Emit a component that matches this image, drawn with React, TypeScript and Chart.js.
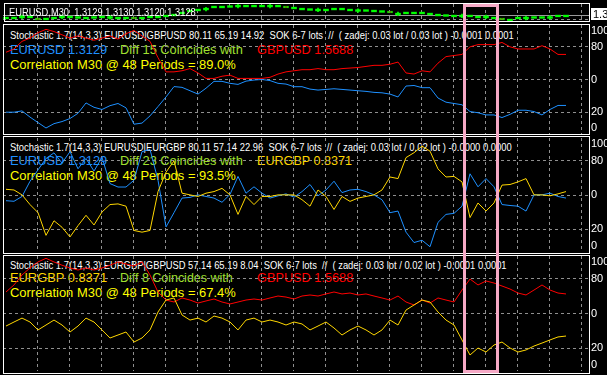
import React, { useEffect, useLayoutEffect, useRef, useState } from 'react';
import { Chart, registerables } from 'chart.js';
Chart.register(...registerables);

const FONT = '"Liberation Sans", Arial, sans-serif';
const BLUE = '#1E90FF';
const RED = '#FF0000';
const GOLD = '#FFD700';
const YELLOW = '#FFFF00';
const LIME = '#A0E030';
const GRID = '#8f8f8f';
const CANDLE = '#00FF00';

// ---- price panel (EURUSD, M30) ----
const priceClose = [
  1.31218, 1.31218, 1.31235, 1.31235, 1.31202, 1.31202, 1.31218, 1.31235, 1.31235, 1.31227,
  1.31218, 1.31227, 1.31235, 1.31227, 1.31218, 1.31218, 1.31218, 1.31218, 1.31235, 1.31235,
  1.31252, 1.31268, 1.31302, 1.31335, 1.31352, 1.31368, 1.31402, 1.31402, 1.3141, 1.31418,
  1.31418, 1.31418, 1.31418, 1.31418, 1.31418, 1.31402, 1.31385, 1.31368, 1.3136, 1.31352,
  1.31352, 1.31368, 1.31368, 1.31352, 1.31343, 1.31343, 1.31335, 1.31327, 1.31318, 1.31285,
  1.31302, 1.31302, 1.31302, 1.31285, 1.31268, 1.3126, 1.31252, 1.31252, 1.31252, 1.31235,
  1.31235, 1.31218, 1.31202, 1.31185, 1.31218, 1.31218, 1.31227, 1.31227, 1.31227, 1.31252,
  1.31252,
];
const markedBars = [4, 16, 35, 48, 62];
const wickBars = [2, 7, 13, 25, 29, 33, 39, 44, 49, 57, 60, 65, 68];
const bidLevel = 1.31268;
const priceGridLevel = 1.31185;
const priceMin = 1.31168;
const priceMax = 1.31452;
const bodyHalf = 0.00014;
const wickHalf = 0.0003;

// ---- panel 1: EURUSD vs GBPUSD ----
const p1EURUSD = [
  20, 20, 21.2, 15.5, 10.5, 5.5, 9.5, 11.4, 14.2, 19,
  28.5, 24.5, 22.5, 26, 28, 24, 9, 10, 16.6, 25.2,
  34, 43.5, 42.8, 39.7, 36.6, 42, 48.3, 48.3, 46.5, 45.5,
  48.5, 49.5, 50, 49, 46.5, 45.8, 43.4, 43.4, 41.2, 40.3,
  40.9, 41.5, 40.9, 40.3, 39.7, 39.1, 38.2, 37.8, 36.6, 34,
  44, 44.5, 42.5, 42.5, 33, 29.2, 28, 26.8, 20.6, 19.5,
  17.5, 17.5, 15.1, 18, 21.8, 21.8, 20.6, 17.5, 22.5, 26.2,
  26.2,
];
const p1GBPUSD = [
  75, 78, 85, 88, 93, 96, 94, 91, 88, 90,
  88, 86, 88, 90, 87, 92, 95, 90, 85, 70,
  57, 57, 58, 60, 56, 51, 51, 53, 54, 51,
  51, 51, 51, 52, 55, 57, 58, 59, 59, 60,
  59, 59, 60, 60.5, 61, 62, 63, 63, 64, 66,
  56, 55, 58, 57, 65, 71, 72, 73, 80, 82,
  82, 82, 84, 80, 78, 78, 78, 81, 78, 73,
  73,
];

// ---- panel 2: EURUSD vs EURGBP ----
const p2EURUSD = [
  45, 44.5, 48.7, 62, 72, 82, 87, 78, 88, 73,
  82, 71, 83, 60, 57, 57, 63, 88, 90, 63,
  22, 34.5, 47.3, 47.9, 50.1, 48.7, 47.3, 43.6, 50.5, 66.3,
  51.6, 57.2, 51.6, 47.3, 49.3, 51, 48.1, 53, 59.2, 49.3,
  54.4, 62.1, 52.1, 54.4, 55, 53, 50.1, 45.8, 34.5, 35.9,
  17.4, 8.3, 10.3, 4.6, 26, 33, 33.9, 40.2, 68.6, 57.2,
  64.4, 57.2, 41.6, 40.8, 40.2, 35.9, 50.1, 50.1, 51.6, 48.7,
  47.3,
];
const p2EURGBP = [
  55, 54.4, 50.1, 41.6, 34.5, 14.6, 27.4, 21.7, 13.2, 23.1,
  32.2, 23.7, 35.1, 41.6, 42.2, 40.2, 18.9, 17.4, 18.9, 53,
  70, 80, 51.6, 50.1, 48.7, 51.6, 53, 55.8, 50.1, 33,
  48.7, 41.6, 48.7, 48.7, 50.1, 50.1, 50.1, 45.9, 40.2, 54.4,
  48.7, 37.3, 48.7, 44.4, 47.3, 48.7, 50.1, 54.4, 65.8, 64.4,
  82.8, 87.1, 92.8, 88.5, 72.9, 65.8, 66.3, 61.5, 30.2, 43,
  35.9, 43, 58.7, 59.2, 61.5, 64.4, 50.1, 50.1, 49.3, 51,
  53,
];

// ---- panel 3: EURGBP vs GBPUSD ----
const p3EURGBP = [
  39.1, 42.6, 46, 42.6, 35.7, 40, 44.3, 40, 33.9, 39.1,
  46, 42.6, 35.7, 28.7, 31.3, 33.9, 25.2, 28.7, 35.7, 51.3,
  61.7, 63.5, 48.7, 44.3, 46, 42.6, 47.8, 46, 42.6, 35.7,
  44.3, 46, 42.6, 44.3, 42.6, 40, 42.6, 40.9, 35.7, 39.1,
  42.6, 37.4, 31.3, 35.7, 39.1, 35.7, 31.3, 35.7, 44.3, 40,
  53, 57.4, 61.7, 60, 51.3, 44.3, 40, 27, 13.9, 20,
  16.5, 22.6, 25.2, 20, 16.5, 18.3, 21.7, 24.3, 27, 29.6,
  30.4,
];
const p3GBPUSD = [
  68.7, 74.8, 83.5, 89.6, 94.8, 98, 94.8, 92, 89.6, 87.8,
  89.6, 87.8, 89.6, 92, 94.8, 93, 91.3, 94.8, 83.5, 68.7,
  61.7, 60, 63.5, 61.7, 59.1, 60.9, 62.6, 60, 58.3, 60,
  61.7, 62.6, 61.7, 63.5, 65.2, 64.3, 62.6, 65.2, 66.1, 65.2,
  67, 68.7, 67, 67.8, 66.1, 67, 65.2, 63.5, 61.7, 65.2,
  60, 57.4, 61.7, 59.1, 63.5, 61.7, 60, 70.4, 80, 74.8,
  78.3, 76.5, 73.9, 71.3, 67.8, 66.1, 70.4, 74.8, 70.4, 67.8,
  67,
];

// scale ticks / labels
const levelValues = [100, 80, 50, 20, 0];
const levelLabels = ['100', '80', '0', '20', '0'];
const gridLevels = [80, 50, 20];
const timeGridFirst = 3.875;
const timeGridStep = 4;
const xMin = -0.375;
const xMax = 72.875;

const headers = [
  'Stochastic 1.7(14,3,3) EURUSD|GBPUSD 80.11 65.19 14.92  SOK 6-7 lots  //  ( zadej: 0.03 lot / 0.03 lot ) -0.0001 0.0001',
  'Stochastic 1.7(14,3,3) EURUSD|EURGBP 80.11 57.14 22.96  SOK 6-7 lots  //  ( zadej: 0.03 lot / 0.02 lot ) -0.0000 0.0000',
  'Stochastic 1.7(14,3,3) EURGBP|GBPUSD 57.14 65.19 8.04  SOK 6-7 lots  //  ( zadej: 0.03 lot / 0.02 lot ) -0.0001 0.0001',
];
const pairLines = [
  [['EURUSD 1.3129', BLUE], ['Diff 15 Coincides with', LIME], ['GBPUSD 1.5688', RED]],
  [['EURUSD 1.3129', BLUE], ['Diff 23 Coincides with', LIME], ['EURGBP 0.8371', GOLD]],
  [['EURGBP 0.8371', GOLD], ['Diff 8 Coincides with', LIME], ['GBPUSD 1.5688', RED]],
];
const correlations = [
  'Correlation M30 @ 48 Periods = 89.0%',
  'Correlation M30 @ 48 Periods = 93.5%',
  'Correlation M30 @ 48 Periods = 67.4%',
];

function timeGridTicks() {
  const t: { value: number }[] = [];
  for (let v = timeGridFirst; v < xMax; v += timeGridStep) t.push({ value: v });
  return t;
}

function makeXScale() {
  return {
    type: 'linear',
    min: xMin,
    max: xMax,
    offset: false,
    afterBuildTicks: (s: any) => { s.ticks = timeGridTicks(); },
    ticks: { display: false },
    grid: { color: GRID, drawTicks: false, lineWidth: 1, offset: false },
    border: { display: false, dash: [3, 3] },
  };
}

const levelLabelPlugin = {
  id: 'levelLabels',
  afterDraw(chart: any) {
    const { ctx, chartArea } = chart;
    const y = chart.scales.y;
    ctx.save();
    ctx.font = '11px ' + FONT;
    ctx.fillStyle = '#ffffff';
    ctx.textBaseline = 'middle';
    ctx.textAlign = 'left';
    levelValues.forEach((v, i) => {
      let py = y.getPixelForValue(v);
      py = Math.max(chartArea.top + 6, Math.min(chartArea.bottom - 6, py));
      ctx.fillText(levelLabels[i], chartArea.right + 2, py);
    });
    ctx.restore();
  },
};

function stochConfig(series: [number[], string][]) {
  return {
    type: 'line',
    data: {
      datasets: series.map(([vals, color]) => ({
        data: vals.map((v, i) => ({ x: i, y: v })),
        borderColor: color,
        borderWidth: 1,
        pointRadius: 0,
        tension: 0,
        fill: false,
      })),
    },
    options: {
      animation: false,
      responsive: false,
      maintainAspectRatio: false,
      layout: { padding: { left: 3, right: 18, top: 0, bottom: 0 } },
      plugins: { legend: { display: false }, tooltip: { enabled: false }, title: { display: false } },
      scales: {
        x: makeXScale(),
        y: {
          position: 'right',
          min: 0,
          max: 100,
          afterBuildTicks: (s: any) => { s.ticks = gridLevels.map((v) => ({ value: v })); },
          ticks: { display: false },
          grid: { color: GRID, drawTicks: false, lineWidth: 1 },
          border: { display: false, dash: [3, 3] },
        },
      },
    },
    plugins: [levelLabelPlugin],
  };
}

const bidLinePlugin = {
  id: 'bidLine',
  beforeDatasetsDraw(chart: any) {
    const { ctx, chartArea } = chart;
    const py = Math.round(chart.scales.y.getPixelForValue(bidLevel)) + 0.5;
    ctx.save();
    ctx.strokeStyle = '#9a9a9a';
    ctx.lineWidth = 1;
    ctx.beginPath();
    ctx.moveTo(chartArea.left, py);
    ctx.lineTo(chartArea.right, py);
    ctx.stroke();
    ctx.restore();
  },
};

function priceConfig() {
  const bodyColors = priceClose.map((_, i) => (markedBars.includes(i) ? RED : CANDLE));
  const bodyBorders = priceClose.map((_, i) => (markedBars.includes(i) ? 1 : 0));
  return {
    type: 'bar',
    data: {
      datasets: [
        {
          data: priceClose
            .map((v, i) => ({ x: i, y: [v - wickHalf, v + wickHalf] }))
            .filter((p) => wickBars.includes(p.x)),
          backgroundColor: CANDLE,
          borderWidth: 0,
          barThickness: 1,
          grouped: false,
        },
        {
          data: priceClose.map((v, i) => ({ x: i, y: [v - bodyHalf, v + bodyHalf] })),
          backgroundColor: bodyColors,
          borderColor: CANDLE,
          borderWidth: bodyBorders,
          borderSkipped: false,
          barThickness: 5,
          grouped: false,
        },
      ],
    },
    options: {
      animation: false,
      responsive: false,
      maintainAspectRatio: false,
      layout: { padding: { left: 3, right: 18, top: 4, bottom: 3 } },
      plugins: { legend: { display: false }, tooltip: { enabled: false } },
      scales: {
        x: makeXScale(),
        y: {
          position: 'right',
          min: priceMin,
          max: priceMax,
          afterBuildTicks: (s: any) => { s.ticks = [{ value: priceGridLevel }]; },
          ticks: { display: false },
          grid: { color: GRID, drawTicks: false, lineWidth: 1 },
          border: { display: false, dash: [3, 3] },
        },
      },
    },
    plugins: [bidLinePlugin],
  };
}

function ChartCanvas({ top, height, make }: { top: number; height: number; make: () => any }) {
  const ref = useRef<HTMLCanvasElement>(null);
  useEffect(() => {
    const chart = new Chart(ref.current as HTMLCanvasElement, make());
    return () => chart.destroy();
  }, []);
  return (
    <canvas
      ref={ref}
      width={607}
      height={height}
      style={{ position: 'absolute', left: 0, top, width: 607, height, zIndex: 2 }}
    />
  );
}

function FitText({ text, left, cy, width, size, color, z = 1 }: any) {
  const ref = useRef<HTMLSpanElement>(null);
  const [k, setK] = useState(1);
  useLayoutEffect(() => {
    const w = ref.current ? ref.current.offsetWidth : 0;
    if (w > 0 && width) setK(width / w);
  }, [text, width]);
  return (
    <span
      ref={ref}
      style={{
        position: 'absolute',
        left,
        top: cy,
        fontFamily: FONT,
        fontSize: size,
        lineHeight: 1,
        color,
        whiteSpace: 'pre',
        transform: `translateY(-50%) scaleX(${k})`,
        transformOrigin: 'left center',
        zIndex: z,
      }}
    >
      {text}
    </span>
  );
}

function Box({ left, top, width, height }: any) {
  return (
    <div
      style={{
        position: 'absolute',
        left,
        top,
        width,
        height,
        border: '1px solid #ffffff',
        boxSizing: 'border-box',
        zIndex: 3,
        pointerEvents: 'none',
      }}
    />
  );
}

const panels = [
  { borderTop: 24, borderBottom: 134.5, chartTop: 25, chartH: 109, small: 34.5, big: 48.8, corr: 64, hdrW: 504, data: [[p1EURUSD, BLUE], [p1GBPUSD, RED]] },
  { borderTop: 136, borderBottom: 253.5, chartTop: 138, chartH: 114, small: 146.7, big: 160, corr: 175, hdrW: 502, data: [[p2EURGBP, GOLD], [p2EURUSD, BLUE]] },
  { borderTop: 254.5, borderBottom: 374, chartTop: 256, chartH: 115, small: 265, big: 277.3, corr: 292, hdrW: 497, data: [[p3EURGBP, GOLD], [p3GBPUSD, RED]] },
];
const pairX = [10, 120, 257];
const pairW = [[97, 123, 96], [97, 123, 95], [97, 113, 96]];

export default function App() {
  return (
    <div style={{ position: 'fixed', left: 0, top: 0, width: 607, height: 375, background: '#000', overflow: 'hidden' }}>
      {/* price panel */}
      <Box left={4} top={3} width={586} height={19} />
      <ChartCanvas top={0} height={24} make={priceConfig} />
      <FitText text={'EURUSD,M30  1.3129 1.3130 1.3120 1.3128'} left={9} cy={11.7} width={187} size={11} color="#ffffff" z={3} />
      <div style={{ position: 'absolute', left: 591, top: 8, width: 16, height: 12, background: '#fff', overflow: 'hidden', zIndex: 4 }}>
        <span style={{ position: 'absolute', left: 2, top: 0, fontFamily: FONT, fontSize: 11, lineHeight: '12px', color: '#000', whiteSpace: 'pre' }}>1.3128</span>
      </div>

      {panels.map((p, pi) => (
        <React.Fragment key={pi}>
          <Box left={3} top={p.borderTop} width={587} height={p.borderBottom - p.borderTop} />
          <ChartCanvas top={p.chartTop} height={p.chartH} make={() => stochConfig(p.data as any)} />
          <FitText text={headers[pi]} left={9.5} cy={p.small} width={p.hdrW} size={11} color="#ffffff" />
          {pairLines[pi].map(([t, c], j) => (
            <FitText key={j} text={t} left={pairX[j]} cy={p.big} width={pairW[pi][j]} size={13} color={c} />
          ))}
          <FitText text={correlations[pi]} left={10} cy={p.corr} width={226} size={13} color={YELLOW} />
        </React.Fragment>
      ))}

      {/* highlighted zone */}
      <div style={{ position: 'absolute', left: 463, top: 4, width: 36, height: 369, border: '3px solid #F6A9C6', boxSizing: 'border-box', zIndex: 5 }} />
    </div>
  );
}
